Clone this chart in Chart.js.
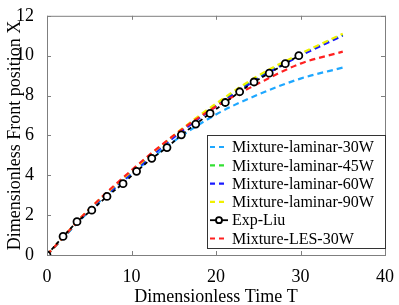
<!DOCTYPE html>
<html>
<head>
<meta charset="utf-8">
<script src="https://cdn.jsdelivr.net/npm/chart.js@4.4.0/dist/chart.umd.min.js"></script>
<style>
  html, body { margin: 0; padding: 0; background: #fff; }
  #wrap { width: 399px; height: 305px; }
</style>
</head>
<body>
<div id="wrap"><canvas id="frontChart"></canvas></div>
<script>
// simulation time grid
const simTime = [0, 5, 10, 15, 20, 25, 30, 35];
const lam30 = [0, 2.2, 4.05, 5.7, 7.05, 8.05, 8.85, 9.4];
const lam45 = [0, 2.25, 4.15, 5.95, 7.5, 8.9, 10.05, 11.05];
const lam60 = [0, 2.25, 4.1, 5.9, 7.45, 8.85, 10.0, 11.0];
const lam90 = [0, 2.3, 4.2, 6.0, 7.6, 9.0, 10.1, 11.1];
const les30 = [0, 2.3, 4.25, 6.0, 7.45, 8.6, 9.6, 10.2];

// experiment
const expTime = [0, 1.9, 3.55, 5.3, 7.1, 9.0, 10.6, 12.4, 14.2, 15.9, 17.6, 19.3, 21.1, 22.8, 24.5, 26.3, 28.2, 29.8];
const expX = [0, 0.93, 1.67, 2.25, 2.94, 3.58, 4.2, 4.85, 5.39, 6.03, 6.57, 7.1, 7.65, 8.19, 8.68, 9.12, 9.6, 10.0];

const xTicks = [0, 10, 20, 30, 40];
const yTicks = [0, 2, 4, 6, 8, 10, 12];

const serif = '"Liberation Serif", "Times New Roman", serif';

const toPts = (xs, ys) => xs.map((x, i) => ({ x: x, y: ys[i] }));

const simSeries = (label, ys, color, order) => ({
  label: label,
  data: toPts(simTime, ys),
  borderColor: color,
  backgroundColor: color,
  borderWidth: 2.2,
  borderDash: [6, 4],
  pointRadius: 0,
  cubicInterpolationMode: 'monotone',
  fill: false,
  order: order
});

const datasets = [
  simSeries('Mixture-laminar-30W', lam30, '#1ea7ff', 5),
  simSeries('Mixture-laminar-45W', lam45, '#33e033', 4),
  simSeries('Mixture-laminar-60W', lam60, '#1a1aff', 3),
  simSeries('Mixture-laminar-90W', lam90, '#f0f000', 2),
  {
    label: 'Exp-Liu',
    data: toPts(expTime, expX),
    borderColor: '#000',
    backgroundColor: '#fff',
    borderWidth: 1.8,
    borderDash: [4, 3],
    pointRadius: 3.5,
    pointBorderWidth: 1.8,
    pointBorderColor: '#000',
    pointBackgroundColor: '#fff',
    fill: false,
    order: 0
  },
  simSeries('Mixture-LES-30W', les30, '#ff2020', 1)
];

// MATLAB-like box with inward ticks and legend
const boxPlugin = {
  id: 'boxPlugin',
  afterDatasetsDraw(chart) {
    const { ctx, chartArea: a, scales } = chart;
    ctx.save();
    ctx.strokeStyle = '#7f7f7f';
    ctx.lineWidth = 1;
    ctx.strokeRect(a.left + 0.5, a.top + 0.5, a.right - a.left, a.bottom - a.top);
    const len = 4;
    ctx.beginPath();
    xTicks.forEach(v => {
      const px = Math.round(scales.x.getPixelForValue(v)) + 0.5;
      ctx.moveTo(px, a.bottom); ctx.lineTo(px, a.bottom - len);
      ctx.moveTo(px, a.top); ctx.lineTo(px, a.top + len);
    });
    yTicks.forEach(v => {
      const py = Math.round(scales.y.getPixelForValue(v)) + 0.5;
      ctx.moveTo(a.left, py); ctx.lineTo(a.left + len, py);
      ctx.moveTo(a.right, py); ctx.lineTo(a.right - len, py);
    });
    ctx.stroke();

    // legend box
    const lx = 207, ly = 135, lw = Math.round(a.right) - lx, rowH = 18.3;
    const lh = 113;
    ctx.setLineDash([]);
    ctx.fillStyle = '#fff';
    ctx.fillRect(lx, ly, lw, lh);
    ctx.strokeStyle = '#333';
    ctx.strokeRect(lx + 0.5, ly + 0.5, lw, lh);
    ctx.font = '16px ' + serif;
    ctx.textBaseline = 'middle';
    datasets.forEach((ds, i) => {
      const cy = ly + 12 + i * rowH;
      ctx.strokeStyle = ds.borderColor;
      ctx.lineWidth = ds.borderWidth;
      ctx.setLineDash(ds.pointRadius ? [] : [5, 4]);
      ctx.beginPath();
      ctx.moveTo(lx + 3, cy); ctx.lineTo(lx + 21, cy);
      ctx.stroke();
      ctx.setLineDash([]);
      if (ds.pointRadius) {
        ctx.beginPath();
        ctx.arc(lx + 12, cy, ds.pointRadius - 0.5, 0, Math.PI * 2);
        ctx.fillStyle = '#fff';
        ctx.fill();
        ctx.lineWidth = ds.pointBorderWidth;
        ctx.strokeStyle = '#000';
        ctx.stroke();
      }
      ctx.fillStyle = '#000';
      ctx.fillText(ds.label, lx + 25, cy + 1);
    });
    ctx.restore();
  }
};

new Chart(document.getElementById('frontChart'), {
  type: 'line',
  data: { datasets: datasets },
  plugins: [boxPlugin],
  options: {
    responsive: true,
    maintainAspectRatio: false,
    animation: false,
    layout: { padding: { top: 10, right: 14, left: 0, bottom: 0 } },
    plugins: { legend: { display: false }, tooltip: { enabled: false } },
    scales: {
      x: {
        type: 'linear',
        min: 0, max: 40,
        afterBuildTicks: s => { s.ticks = xTicks.map(v => ({ value: v })); },
        afterFit: s => { s.height = 50; },
        grid: { display: false },
        border: { display: false },
        ticks: { color: '#000', padding: 3, maxRotation: 0, font: { family: serif, size: 18 } },
        title: { display: true, text: 'Dimensionless Time T', color: '#000', padding: { top: 0, bottom: -3 }, font: { family: serif, size: 18 } }
      },
      y: {
        min: 0, max: 12,
        afterBuildTicks: s => { s.ticks = yTicks.map(v => ({ value: v })); },
        afterFit: s => { s.width = 47; },
        grid: { display: false },
        border: { display: false },
        ticks: { color: '#000', padding: 5, font: { family: serif, size: 18 } },
        title: { display: true, text: 'Dimensionless Front position X', color: '#000', padding: { bottom: 1 }, font: { family: serif, size: 18 } }
      }
    }
  }
});
</script>
</body>
</html>
